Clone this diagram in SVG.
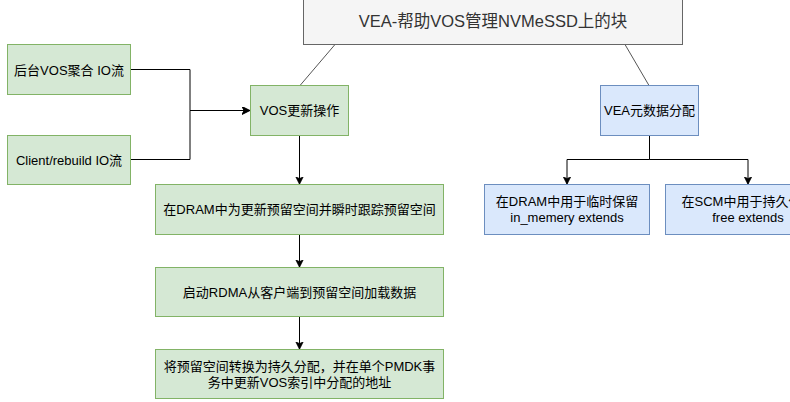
<svg xmlns="http://www.w3.org/2000/svg" width="790" height="402" viewBox="0 0 790 402">
<style>
.g{fill:#d5e8d4;stroke:#82b366;stroke-width:1}
.b{fill:#dae8fc;stroke:#6c8ebf;stroke-width:1}
.gr{fill:#f5f5f5;stroke:#666666;stroke-width:1}
text{font-family:"Liberation Sans","Noto Sans CJK SC",Arial,sans-serif;font-size:13px;fill:#000;text-anchor:middle;dominant-baseline:central}
.t{font-size:16.5px;fill:#333333}
.e{fill:none;stroke:#000;stroke-width:1}
.l{fill:none;stroke:#555;stroke-width:1}
</style>
<defs>
<marker id="ar" markerUnits="userSpaceOnUse" markerWidth="10" markerHeight="10" refX="8" refY="4" orient="auto">
<path d="M0,0 L8,4 L0,8 L2,4 Z" fill="#000" stroke="#000" stroke-width="0.5"/>
</marker>
</defs>
<rect width="790" height="402" fill="#fff"/>
<g id="connectors">
<path class="l" d="M335,44.5 L300,85.5"/>
<path class="l" d="M625,44.5 L649,85.5"/>
<path class="e" d="M130.5,69.5 H190 V110.5 H250" marker-end="url(#ar)"/>
<path class="e" d="M130.5,159.5 H190 V110.5 H250" marker-end="url(#ar)"/>
<path class="e" d="M299.5,135.5 V184.5" marker-end="url(#ar)"/>
<path class="e" d="M299.5,234.5 V267.5" marker-end="url(#ar)"/>
<path class="e" d="M299.5,316.5 V349.5" marker-end="url(#ar)"/>
<path class="e" d="M649.5,135.5 V159.5 H567 V184.5" marker-end="url(#ar)"/>
<path class="e" d="M649.5,159.5 H748 V184.5" marker-end="url(#ar)"/>
</g>
<g id="title">
<rect class="gr" x="303.5" y="-1" width="379" height="45.5"/>
<text class="t" x="493" y="21">VEA-帮助VOS管理NVMeSSD上的块</text>
</g>
<g id="bg-io">
<rect class="g" x="7.5" y="44.5" width="123" height="50"/>
<text x="69" y="70">后台VOS聚合 IO流</text>
</g>
<g id="client-io">
<rect class="g" x="7.5" y="135.5" width="123" height="49"/>
<text x="69" y="160">Client/rebuild IO流</text>
</g>
<g id="vos-update">
<rect class="g" x="250.5" y="85.5" width="98" height="50"/>
<text x="299.5" y="110.5">VOS更新操作</text>
</g>
<g id="step1">
<rect class="g" x="155.5" y="184.5" width="288" height="50"/>
<text x="299.5" y="209.5">在DRAM中为更新预留空间并瞬时跟踪预留空间</text>
</g>
<g id="step2">
<rect class="g" x="155.5" y="267.5" width="288" height="49"/>
<text x="299.5" y="292">启动RDMA从客户端到预留空间加载数据</text>
</g>
<g id="step3">
<rect class="g" x="155.5" y="349.5" width="288" height="49"/>
<text x="299.5" y="366">将预留空间转换为持久分配，并在单个PMDK事</text>
<text x="299.5" y="382">务中更新VOS索引中分配的地址</text>
</g>
<g id="vea-meta">
<rect class="b" x="600.5" y="85.5" width="98" height="50"/>
<text x="649.5" y="110.5">VEA元数据分配</text>
</g>
<g id="dram-alloc">
<rect class="b" x="484.5" y="184.5" width="165" height="50"/>
<text x="567" y="201.5">在DRAM中用于临时保留</text>
<text x="567" y="217.5">in_memery extends</text>
</g>
<g id="scm-alloc">
<rect class="b" x="665.5" y="184.5" width="165" height="50"/>
<text x="748" y="201.5">在SCM中用于持久保留</text>
<text x="748" y="217.5">free extends</text>
</g>
</svg>
